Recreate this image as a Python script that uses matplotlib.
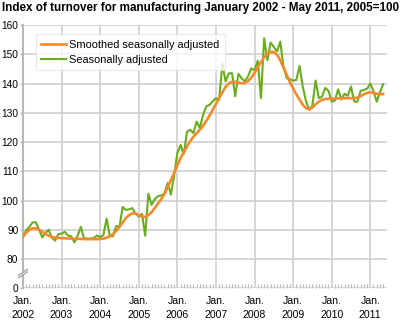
import numpy as np
import matplotlib
matplotlib.use("Agg")
import matplotlib.pyplot as plt
from matplotlib.patches import Polygon

# ==============================
# DATA (monthly, Jan 2002 - May 2011)
# ==============================

years = list(range(2002, 2012))

smoothed = [
    87.6, 89.0, 90.0, 90.5, 90.5, 90.0, 89.3, 88.6, 88.0, 87.6, 87.3, 87.2,
    87.2, 87.1, 87.0, 87.0, 86.9, 86.9, 86.9, 86.8, 86.8, 86.8, 86.8, 86.8,
    86.9, 87.0, 87.3, 87.8, 88.5, 89.6, 91.0, 92.5, 94.0, 95.0, 95.6, 95.6,
    95.0, 94.5, 94.4, 95.0, 96.0, 97.5, 99.0, 100.5, 102.3, 104.5, 107.0, 109.5,
    112.0, 114.5, 116.5, 118.5, 120.3, 121.8, 123.0, 124.2, 125.5, 127.2, 129.0, 131.0,
    133.0, 135.0, 137.0, 138.8, 140.0, 140.6, 140.6, 140.3, 140.1, 140.2, 140.8, 142.0,
    143.6, 145.5, 147.3, 149.0, 150.2, 150.8, 150.8, 149.8, 148.0, 145.5, 143.0, 140.5,
    138.3, 136.3, 134.5, 132.8, 131.6, 131.2, 131.8, 132.9, 133.8, 134.4, 134.7, 134.8,
    134.8, 134.8, 134.9, 135.0, 135.0, 135.0, 135.0, 135.0, 135.2, 135.7, 136.3, 136.8,
    137.0, 136.8, 136.5, 136.3, 136.4,
]

seasonal = [
    87.8, 89.8, 91.0, 92.5, 92.6, 90.0, 87.4, 89.0, 90.0, 87.2, 86.3, 88.5,
    88.7, 89.3, 88.0, 87.8, 85.7, 88.0, 91.0, 87.0, 87.0, 87.0, 87.2, 88.0,
    87.5, 88.2, 93.8, 87.8, 87.8, 91.3, 91.0, 97.8, 96.8, 97.0, 97.4, 95.5,
    94.5, 95.5, 88.0, 102.3, 98.5, 100.5, 101.5, 101.7, 102.5, 106.0, 102.0, 108.5,
    116.2, 119.0, 115.8, 123.5, 124.2, 123.0, 127.0, 124.8, 129.3, 132.2, 132.7, 133.9,
    135.0, 134.4, 146.7, 140.7, 143.5, 143.5, 135.6, 143.3, 141.8, 140.7, 142.5, 145.2,
    144.5, 147.8, 135.0, 155.5, 148.0, 154.0, 152.5, 151.0, 154.3, 145.8, 141.8, 141.5,
    141.0, 141.2, 146.0, 139.0, 134.0, 131.0, 132.5, 141.0, 135.0, 135.5, 138.5, 137.5,
    133.8, 134.2, 138.0, 134.5, 136.5, 135.8, 139.0, 133.8, 133.8, 137.5, 137.8, 138.2,
    140.0, 137.5, 133.8, 137.0, 139.8,
]

y_ticks = [70, 80, 90, 100, 110, 120, 130, 140, 150, 160]
y_labels = ["0", "80", "90", "100", "110", "120", "130", "140", "150", "160"]

months = np.arange(len(seasonal))

# ==============================
# STYLE
# ==============================

plt.rcParams["font.family"] = ["Liberation Sans", "DejaVu Sans"]

ORANGE = "#f58a2c"
GREEN = "#6aac1f"
GRID = "#cfcfcf"
AXIS = "#b8b8b8"

# ==============================
# FIGURE
# ==============================

fig = plt.figure(figsize=(4.03, 3.22), dpi=100)

ax = fig.add_axes([23 / 403, 1 - 288.3 / 322, 364 / 403, (288.3 - 25) / 322])

ax.plot(months, smoothed, color=ORANGE, lw=1.9,
        label="Smoothed seasonally adjusted", zorder=4, solid_joinstyle="round")
ax.plot(months, seasonal, color=GREEN, lw=1.5,
        label="Seasonally adjusted", zorder=3, solid_joinstyle="round")

ax.set_xlim(0, 113.2)
ax.set_ylim(70, 160)

# y axis
ax.set_yticks(y_ticks)
ax.set_yticklabels(y_labels, fontsize=7.3)
ax.tick_params(axis="y", length=2.2, width=1, color=AXIS, pad=1.2)

# x axis
ax.set_xticks([12 * i for i in range(len(years))])
ax.set_xticklabels(["Jan.\n%d" % y for y in years], fontsize=7.6, linespacing=1.45)
ax.set_xticks(months, minor=True)
ax.tick_params(axis="x", which="major", length=0, pad=5.5)
ax.tick_params(axis="x", which="minor", direction="in", length=3.2,
               width=0.8, color=AXIS)

ax.grid(True, which="major", color=GRID, lw=1.2)
ax.set_axisbelow(True)

for side in ["top", "right", "bottom"]:
    ax.spines[side].set_visible(False)
ax.spines["left"].set_color(AXIS)
ax.spines["left"].set_linewidth(1.5)

# axis break mark between 0 and 80
px = 1 / 364
py = 1 / 263.3
brk = Polygon([(-4 * px, 13 * py), (4 * px, 19 * py), (4 * px, 17 * py), (-4 * px, 11 * py)],
              closed=True, transform=ax.transAxes, facecolor="white",
              edgecolor="none", clip_on=False, zorder=5)
ax.add_patch(brk)
for off in (0, 2.5):
    ax.plot([-4.5 * px, 4.5 * px], [(10.5 + off) * py, (16.5 + off) * py],
            transform=ax.transAxes, color="#a0a0a0", lw=0.9,
            clip_on=False, zorder=6)

# legend
leg = ax.legend(loc="upper left", bbox_to_anchor=(0.035, 0.965),
                borderaxespad=0, fontsize=7.9, frameon=True, fancybox=False,
                handlelength=2.3, handletextpad=0.25, borderpad=0.5,
                labelspacing=0.45)
leg.get_frame().set_edgecolor("#e4e4e4")
leg.get_frame().set_linewidth(0.8)

# title
fig.text(2 / 403, 1 - 8 / 322, "Index of turnover for manufacturing January 2002 - May 2011, 2005=100",
         fontsize=8.4, fontweight="bold", va="center", ha="left")

fig.savefig("out.png", dpi=100)
